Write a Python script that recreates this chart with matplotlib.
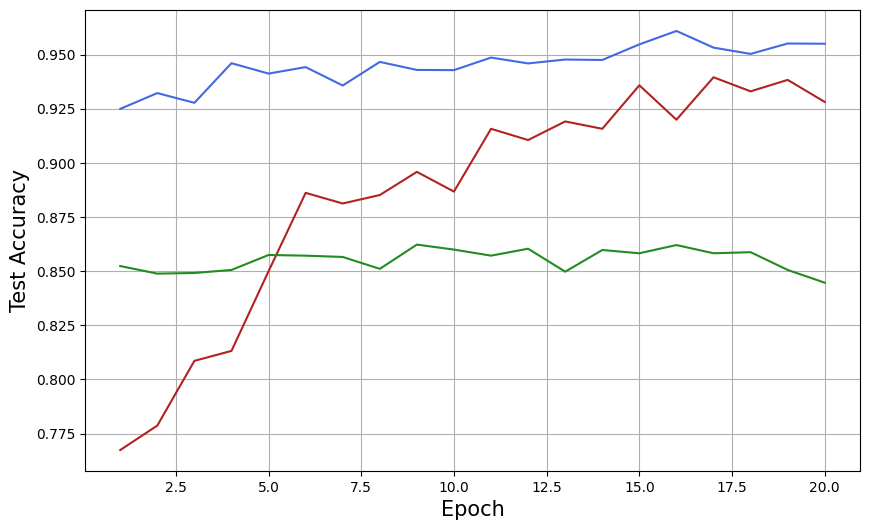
import matplotlib
matplotlib.use("Agg")
import matplotlib.pyplot as plt

epochs = list(range(1, 21))
acc_blue = [0.9250, 0.9323, 0.9278, 0.9461, 0.9413, 0.9443, 0.9358, 0.9467, 0.9430, 0.9429,
            0.9487, 0.9460, 0.9478, 0.9476, 0.9548, 0.9610, 0.9533, 0.9504, 0.9552, 0.9551]
acc_red = [0.7674, 0.7787, 0.8086, 0.8132, 0.8500, 0.8862, 0.8813, 0.8852, 0.8959, 0.8868,
           0.9158, 0.9106, 0.9192, 0.9158, 0.9359, 0.9200, 0.9396, 0.9331, 0.9384, 0.9282]
acc_green = [0.8524, 0.8489, 0.8492, 0.8506, 0.8575, 0.8572, 0.8566, 0.8511, 0.8623, 0.8600,
             0.8572, 0.8604, 0.8498, 0.8598, 0.8583, 0.8621, 0.8583, 0.8588, 0.8506, 0.8447]

W, H = 869, 531
fig = plt.figure(figsize=(W / 100, H / 100), dpi=100)
ax = fig.add_axes([85 / W, 1 - 471 / H, 775 / W, 461 / H])

ax.plot(epochs, acc_blue, color='royalblue')
ax.plot(epochs, acc_red, color='firebrick')
ax.plot(epochs, acc_green, color='forestgreen')

ax.set_xlabel('Epoch', fontsize=15)
ax.set_ylabel('Test Accuracy', fontsize=15)
ax.grid(True)

fig.savefig('out.png', dpi=100)
